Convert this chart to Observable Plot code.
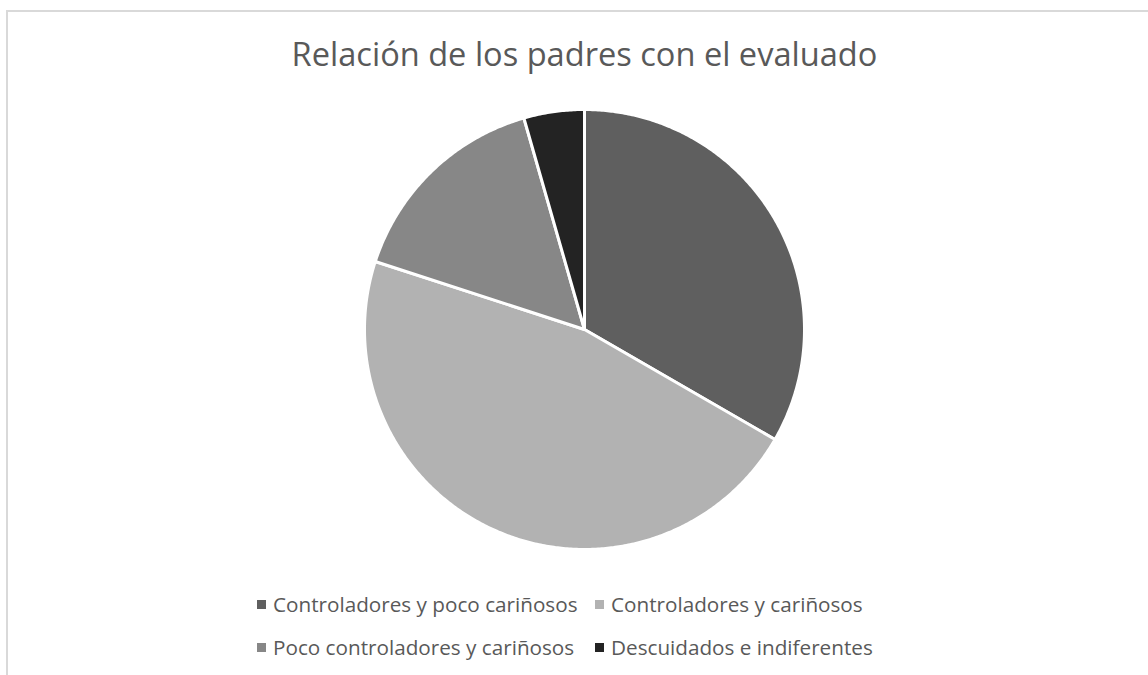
<!DOCTYPE html>
<html><head><meta charset="utf-8">
<script src="https://cdn.jsdelivr.net/npm/d3@7"></script>
<script src="https://cdn.jsdelivr.net/npm/@observablehq/plot@0.6"></script>
<style>
body{margin:0;background:#fff;width:1148px;height:675px;overflow:hidden;position:relative;font-family:"Open Sans",sans-serif;}
#frame{position:absolute;left:6px;top:10px;width:1300px;height:800px;border:2px solid #d9d9d9;box-sizing:border-box;}
#title{position:absolute;left:0;top:31px;width:1169px;text-align:center;font-size:32.6px;color:#595959;white-space:nowrap;}
#pie{position:absolute;left:354px;top:99px;}
#legend{position:absolute;left:257px;top:591px;display:grid;grid-template-columns:338px auto;row-gap:17px;}
.item{display:flex;align-items:center;font-size:20.7px;color:#595959;white-space:nowrap;line-height:26px;height:26px;}
.sw{width:9px;height:9px;margin-right:7px;flex:none;}
</style></head>
<body>
<div id="frame"></div>
<div id="title"></div>
<div id="pie"></div>
<div id="legend"></div>
<script>
const title = "Relación de los padres con el evaluado";
const categories = ["Controladores y poco cariñosos","Controladores y cariñosos","Poco controladores y cariñosos","Descuidados e indiferentes"];
const values = [15, 21, 7, 2];
const colors = ["#5f5f5f","#b2b2b2","#878787","#232323"];

document.getElementById("title").textContent = title;

const arcs = d3.pie().sort(null).value(d => d)(values);
const pts = [];
arcs.forEach((p, i) => {
  const c = categories[i];
  pts.push({c, x: 0, y: 0});
  const n = Math.max(2, Math.ceil((p.endAngle - p.startAngle) / (Math.PI / 360)));
  for (let k = 0; k <= n; k++) {
    const a = p.startAngle + (p.endAngle - p.startAngle) * k / n;
    pts.push({c, x: Math.sin(a), y: Math.cos(a)});
  }
  pts.push({c, x: 0, y: 0});
});

const chart = Plot.plot({
  width: 460, height: 460, margin: 10,
  x: {domain: [-1, 1], axis: null},
  y: {domain: [-1, 1], axis: null},
  color: {domain: categories, range: colors},
  marks: [
    Plot.line(pts, {x: "x", y: "y", z: "c", fill: "c", stroke: "white", strokeWidth: 3, strokeLinejoin: "round"})
  ]
});
document.getElementById("pie").appendChild(chart);

const legend = document.getElementById("legend");
[0, 1, 2, 3].forEach(i => {
  const it = document.createElement("div");
  it.className = "item";
  const sw = document.createElement("span");
  sw.className = "sw";
  sw.style.background = colors[i];
  it.appendChild(sw);
  it.appendChild(document.createTextNode(categories[i]));
  legend.appendChild(it);
});
</script>
</body></html>
